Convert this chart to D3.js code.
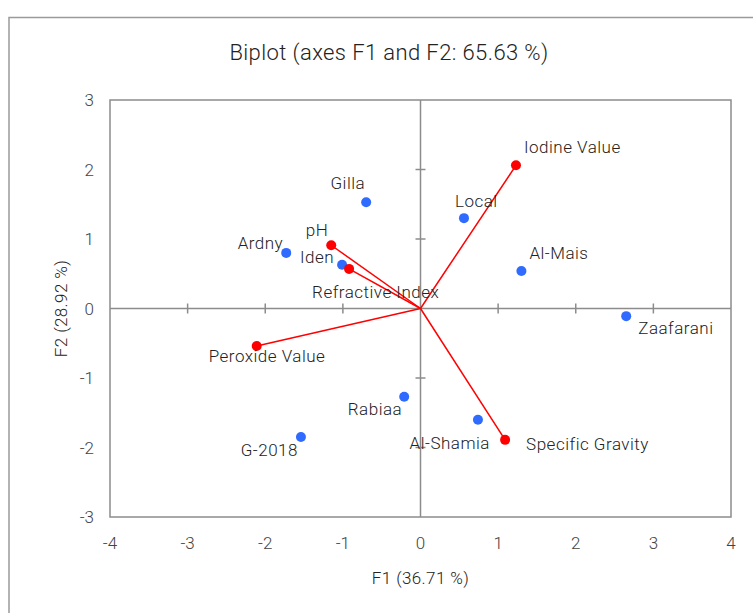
<!DOCTYPE html>
<meta charset="utf-8">
<style>
body { margin: 0; background: #fff; }
text { font-family: Roboto, "Open Sans", sans-serif; font-weight: 300; fill: #222; }
.frame { fill: none; stroke: #9a9a9a; stroke-width: 1.5px; }
.plot { fill: none; stroke: #8c8c8c; stroke-width: 1.5px; }
.axis0 { stroke: #8c8c8c; stroke-width: 1.5px; }
.vec { stroke: #ff0000; stroke-width: 1.5px; }
.lbl { font-size: 17px; letter-spacing: 0.5px; }
.tick { font-size: 17px; fill: #444; }
</style>
<svg width="753" height="613"></svg>
<script src="https://cdnjs.cloudflare.com/ajax/libs/d3/7.8.5/d3.min.js"></script>
<script>
// observations (blue)
const obsNames = ['Gilla', 'Local', 'Ardny', 'Iden', 'Al-Mais', 'Zaafarani', 'Rabiaa', 'Al-Shamia', 'G-2018'];
const obsF1 = [-0.70, 0.56, -1.73, -1.01, 1.30, 2.65, -0.21, 0.74, -1.54];
const obsF2 = [1.53, 1.30, 0.80, 0.63, 0.54, -0.11, -1.27, -1.60, -1.85];

// variables (red)
const varNames = ['Iodine Value', 'pH', 'Refractive Index', 'Peroxide Value', 'Specific Gravity'];
const varF1 = [1.23, -1.15, -0.92, -2.11, 1.09];
const varF2 = [2.06, 0.91, 0.57, -0.54, -1.89];

const xTicks = [-4, -3, -2, -1, 0, 1, 2, 3, 4];
const yTicks = [-3, -2, -1, 0, 1, 2, 3];

// label placement relative to the point: [dx, dy, anchor]
const place = {
    'Gilla': [-1, -19, 'end'],
    'Local': [-9, -17, 'start'],
    'Ardny': [-3, -10, 'end'],
    'Iden': [-8, -8, 'end'],
    'Al-Mais': [8, -18, 'start'],
    'Zaafarani': [12, 12, 'start'],
    'Rabiaa': [-2, 12, 'end'],
    'Al-Shamia': [12, 23, 'end'],
    'G-2018': [-3, 13, 'end'],
    'Iodine Value': [8, -18, 'start'],
    'pH': [-3, -15, 'end'],
    'Refractive Index': [-37, 23, 'start'],
    'Peroxide Value': [-48, 10, 'start'],
    'Specific Gravity': [21, 4, 'start']
};

const svg = d3.select('svg');
const x = d3.scaleLinear().domain([-4, 4]).range([110, 731]);
const y = d3.scaleLinear().domain([-3, 3]).range([517, 100]);

svg.append('rect').attr('class', 'frame')
    .attr('x', 9).attr('y', 17.5).attr('width', 760).attr('height', 610);

svg.append('text')
    .attr('x', 389).attr('y', 60)
    .attr('text-anchor', 'middle')
    .style('font-size', '22px').style('letter-spacing', '0.4px')
    .text('Biplot (axes F1 and F2: 65.63 %)');

// zero axes with cross ticks
svg.append('line').attr('class', 'axis0')
    .attr('x1', x(-4)).attr('x2', x(4)).attr('y1', y(0)).attr('y2', y(0));
svg.append('line').attr('class', 'axis0')
    .attr('x1', x(0)).attr('x2', x(0)).attr('y1', y(-3)).attr('y2', y(3));
svg.append('g').selectAll('line')
    .data(xTicks.filter(d => d > -4 && d < 4 && d !== 0))
    .enter().append('line').attr('class', 'axis0')
        .attr('x1', d => x(d)).attr('x2', d => x(d))
        .attr('y1', y(0) - 5).attr('y2', y(0) + 5);
svg.append('g').selectAll('line')
    .data(yTicks.filter(d => d > -3 && d < 3 && d !== 0))
    .enter().append('line').attr('class', 'axis0')
        .attr('x1', x(0) - 5).attr('x2', x(0) + 5)
        .attr('y1', d => y(d)).attr('y2', d => y(d));

svg.append('rect').attr('class', 'plot')
    .attr('x', x(-4)).attr('y', y(3))
    .attr('width', x(4) - x(-4)).attr('height', y(-3) - y(3));

svg.append('g').selectAll('text')
    .data(xTicks)
    .enter().append('text').attr('class', 'tick')
        .attr('x', d => x(d)).attr('y', 549)
        .attr('text-anchor', 'middle')
        .text(d => d);
svg.append('g').selectAll('text')
    .data(yTicks)
    .enter().append('text').attr('class', 'tick')
        .attr('x', 94).attr('y', d => y(d) + 6)
        .attr('text-anchor', 'end')
        .text(d => d);

svg.append('text')
    .attr('x', x(0)).attr('y', 584)
    .attr('text-anchor', 'middle')
    .style('font-size', '17px').style('letter-spacing', '0.4px')
    .text('F1 (36.71 %)');
svg.append('text')
    .attr('transform', `translate(67,${y(0)}) rotate(-90)`)
    .attr('text-anchor', 'middle')
    .style('font-size', '17px').style('letter-spacing', '0.4px')
    .text('F2 (28.92 %)');

const obs = obsNames.map((n, i) => ({name: n, f1: obsF1[i], f2: obsF2[i]}));
const vars = varNames.map((n, i) => ({name: n, f1: varF1[i], f2: varF2[i]}));

svg.append('g').selectAll('line')
    .data(vars)
    .enter().append('line').attr('class', 'vec')
        .attr('x1', x(0)).attr('y1', y(0))
        .attr('x2', d => x(d.f1)).attr('y2', d => y(d.f2));

svg.append('g').selectAll('circle')
    .data(obs)
    .enter().append('circle')
        .attr('cx', d => x(d.f1)).attr('cy', d => y(d.f2))
        .attr('r', 5).attr('fill', '#2f6bff');
svg.append('g').selectAll('circle')
    .data(vars)
    .enter().append('circle')
        .attr('cx', d => x(d.f1)).attr('cy', d => y(d.f2))
        .attr('r', 5).attr('fill', '#ff0000');

svg.append('g').selectAll('text')
    .data(obs.concat(vars))
    .enter().append('text').attr('class', 'lbl')
        .attr('x', d => x(d.f1) + place[d.name][0])
        .attr('y', d => y(d.f2) + place[d.name][1] + 6)
        .attr('text-anchor', d => place[d.name][2])
        .text(d => d.name);
</script>
